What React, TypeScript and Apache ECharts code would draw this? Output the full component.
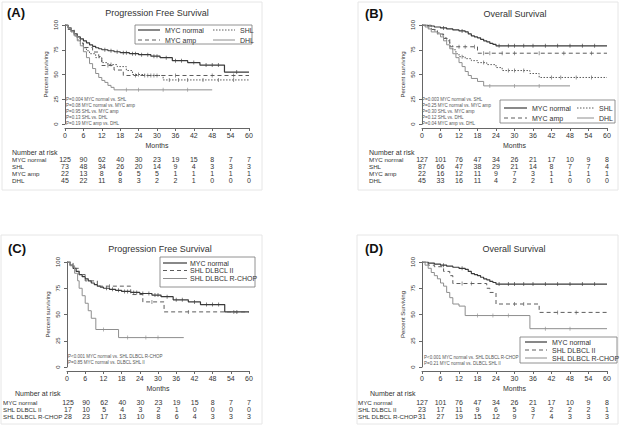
import React, { useEffect, useRef } from "react";
import * as echarts from "echarts";

// ---------- data ----------
const months = [0, 6, 12, 18, 24, 30, 36, 42, 48, 54, 60];

// Panel A - PFS
const pfsNormT = [0, 1, 2, 3, 4, 5, 6, 7, 8, 9, 10, 11, 12, 14, 16, 18, 21, 24, 28, 31, 35, 40, 44, 52, 60];
const pfsNormS = [100, 97, 94, 91, 88, 86, 84, 82, 80, 78.5, 77, 76, 75, 74, 73, 72, 71, 70, 68.5, 67, 64, 62, 59.5, 52.5, 52.5];
const pfsNormC = [13, 15, 17, 19, 20, 22, 23, 25, 27, 29, 30, 33, 36, 38, 42, 46, 48, 50, 56];
const pfsShlT = [0, 1, 2, 3, 4, 5, 6, 7, 8, 10, 12, 14, 17, 20, 22, 26, 32, 60];
const pfsShlS = [100, 97, 93, 89, 85, 81, 77, 74, 71, 67, 62, 60, 58, 54, 50, 49, 44.5, 44.5];
const pfsShlC = [15, 24, 27, 29, 34, 37, 40, 45, 50, 55];
const pfsAmpT = [0, 1, 3, 4, 5, 6, 9, 11, 12, 16, 19, 60];
const pfsAmpS = [100, 95.5, 91, 86.4, 81.8, 77.3, 72.7, 68.2, 59.1, 54.5, 49, 49];
const pfsAmpC = [14, 23, 26, 28, 30, 36, 48, 55];
const pfsDhlT = [0, 1, 2, 3, 4, 5, 6, 7, 8, 9, 10, 11, 12, 13, 14, 15, 16, 48];
const pfsDhlS = [100, 97, 93, 89, 84, 79, 73, 67, 61, 56, 51, 47, 44, 42, 39, 37, 34.5, 34.5];
const pfsDhlC = [20, 24, 32, 40];

// Panel B - OS
const osNormT = [0, 2, 4, 6, 8, 10, 12, 14, 15, 16, 17, 18, 19, 20, 21, 22, 23, 24, 60];
const osNormS = [100, 99, 98, 97, 96, 95, 94, 93, 91, 89, 88, 87, 85.5, 84, 83, 81.5, 80.5, 79, 79];
const osNormC = [7, 13, 25, 28, 30, 33, 36, 40, 44, 48, 52, 56];
const osShlT = [0, 1, 2, 3, 4, 5, 6, 7, 8, 9, 10, 11, 12, 14, 16, 18, 21, 24, 26, 35, 38, 60];
const osShlS = [100, 99, 97, 95.5, 94, 92, 90, 87, 84, 79, 75, 71, 68, 66, 64, 62, 60, 57, 54, 51, 47, 47];
const osShlC = [13, 20, 28, 30, 33, 42, 45, 50, 55];
const osAmpT = [0, 3, 5, 7, 9, 18, 60];
const osAmpS = [100, 95.5, 90.9, 86.4, 78, 71.5, 71.5];
const osAmpC = [12, 14, 17, 20, 22, 26, 30, 38, 46, 55];
const osDhlT = [0, 1, 2, 3, 5, 6, 7, 8, 9, 10, 11, 12, 13, 14, 15, 16, 18, 20, 48];
const osDhlS = [100, 98, 96, 93, 91, 88, 84, 80, 76, 71, 67, 62, 58, 53, 49, 46, 43, 38.5, 38.5];
const osDhlC = [22, 30, 38];

// Panel C - PFS by SHL subgroup
const cShl2T = [0, 2, 4, 6, 10, 21, 25, 32, 60];
const cShl2S = [100, 94, 88, 82, 77, 69, 62, 52.5, 52.5];
const cShl2C = [14, 28, 40, 55];
const cRchT = [0, 1, 2.5, 3.5, 4, 5, 6, 7, 8, 9.5, 17, 38.5];
const cRchS = [100, 96.4, 89.3, 82.1, 75, 67.9, 60.7, 53.6, 46.4, 35.7, 28, 28];
const cRchC = [12, 20, 26, 30];

// Panel D - OS by SHL subgroup
const dShl2T = [0, 2, 4, 7, 9, 10, 21, 22, 24, 38, 60];
const dShl2S = [100, 97, 95.5, 91, 87, 79.5, 75, 71, 60, 52, 52];
const dShl2C = [13, 16, 30, 33, 44, 50];
const dRchT = [0, 1, 2, 3, 4, 5, 6, 7, 8, 9, 10, 12, 14, 35, 60];
const dRchS = [100, 97, 94, 90, 87, 84, 80, 77, 71, 66, 60, 58, 49, 36.5, 36.5];
const dRchC = [18, 23, 28, 40, 48];

// Numbers at risk
const riskA = {
  labels: ["MYC normal", "SHL", "MYC amp", "DHL"],
  rows: [
    [125, 90, 62, 40, 30, 23, 19, 15, 8, 7, 7],
    [73, 48, 34, 26, 20, 14, 9, 4, 3, 3, 3],
    [22, 13, 8, 6, 5, 5, 1, 1, 1, 1, 1],
    [45, 22, 11, 8, 3, 2, 2, 1, 0, 0, 0],
  ],
};
const riskB = {
  labels: ["MYC normal", "SHL", "MYC amp", "DHL"],
  rows: [
    [127, 101, 76, 47, 34, 26, 21, 17, 10, 9, 8],
    [87, 66, 47, 38, 29, 21, 14, 8, 7, 7, 4],
    [22, 16, 12, 11, 9, 7, 3, 1, 1, 1, 1],
    [45, 33, 16, 11, 4, 2, 2, 1, 0, 0, 0],
  ],
};
const riskC = {
  labels: ["MYC normal", "SHL DLBCL II", "SHL DLBCL R-CHOP"],
  rows: [
    [125, 90, 62, 40, 30, 23, 19, 15, 8, 7, 7],
    [17, 10, 5, 4, 3, 2, 1, 0, 0, 0, 0],
    [28, 23, 17, 13, 10, 8, 6, 4, 3, 3, 3],
  ],
};
const riskD = {
  labels: ["MYC normal", "SHL DLBCL II", "SHL DLBCL R-CHOP"],
  rows: [
    [127, 101, 76, 47, 34, 26, 21, 17, 10, 9, 8],
    [23, 17, 11, 9, 6, 5, 3, 2, 2, 2, 1],
    [31, 27, 19, 15, 12, 9, 7, 4, 3, 3, 3],
  ],
};

const pvalA = [
  "P=0.004 MYC normal vs. SHL",
  "P=0.08 MYC normal vs. MYC amp",
  "P=0.95 SHL vs. MYC amp",
  "P=0.13 SHL vs. DHL",
  "P=0.19 MYC amp vs. DHL",
];
const pvalB = [
  "P=0.003 MYC normal vs. SHL",
  "P=0.25 MYC normal vs. MYC amp",
  "P=0.30 SHL vs. MYC amp",
  "P=0.12 SHL vs. DHL",
  "P=0.04 MYC amp vs. DHL",
];
const pvalC = ["P<0.001 MYC normal vs. SHL DLBCL R-CHOP", "P=0.85 MYC normal vs. DLBCL SHL II"];
const pvalD = ["P<0.001 MYC normal vs. SHL DLBCL R-CHOP", "P=0.21 MYC normal vs. DLBCL SHL II"];

// ---------- styles ----------
const FONT = "Liberation Sans, Arial, sans-serif";
const styles: Record<string, any> = {
  "MYC normal": { color: "#3a3a3a", width: 1.2, type: "solid", dash: null },
  SHL: { color: "#5c5c5c", width: 1, type: [1.5, 1.5], dash: [1.5, 1.5] },
  "MYC amp": { color: "#5c5c5c", width: 1, type: [4, 3], dash: [4, 3] },
  DHL: { color: "#8e8e8e", width: 1, type: "solid", dash: null },
  "SHL DLBCL II": { color: "#5c5c5c", width: 1, type: [4, 3], dash: [4, 3] },
  "SHL DLBCL R-CHOP": { color: "#8e8e8e", width: 1, type: "solid", dash: null },
};

function stepAt(T: number[], S: number[], t: number) {
  let s = S[0];
  for (let i = 0; i < T.length; i++) if (T[i] <= t) s = S[i];
  return s;
}

type Curve = { name: string; T: number[]; S: number[]; C: number[] };

const panels = [
  {
    tag: "(A)", title: "Progression Free Survival", yName: "Percent surviving",
    curves: [
      { name: "MYC normal", T: pfsNormT, S: pfsNormS, C: pfsNormC },
      { name: "SHL", T: pfsShlT, S: pfsShlS, C: pfsShlC },
      { name: "MYC amp", T: pfsAmpT, S: pfsAmpS, C: pfsAmpC },
      { name: "DHL", T: pfsDhlT, S: pfsDhlS, C: pfsDhlC },
    ] as Curve[],
    risk: riskA, pvals: pvalA,
    L: { left: 65, top: 25, width: 184, height: 99, tagX: 7, tagY: 14, titleX: 157, titleY: 13,
      riskTop: 155.5, rowH: 7, labelX: 12, narX: 12, narY: 152, pX: 66, pY: 99, frame: [2, 2, 260, 188] },
  },
  {
    tag: "(B)", title: "Overall Survival", yName: "Percent surviving",
    curves: [
      { name: "MYC normal", T: osNormT, S: osNormS, C: osNormC },
      { name: "SHL", T: osShlT, S: osShlS, C: osShlC },
      { name: "MYC amp", T: osAmpT, S: osAmpS, C: osAmpC },
      { name: "DHL", T: osDhlT, S: osDhlS, C: osDhlC },
    ] as Curve[],
    risk: riskB, pvals: pvalB,
    L: { left: 422, top: 25, width: 185, height: 99, tagX: 365, tagY: 15, titleX: 515, titleY: 14,
      riskTop: 155.5, rowH: 7, labelX: 369, narX: 369, narY: 152, pX: 422, pY: 99, frame: [358, 2, 260, 188] },
  },
  {
    tag: "(C)", title: "Progression Free Survival", yName: "Percent surviving",
    curves: [
      { name: "MYC normal", T: pfsNormT, S: pfsNormS, C: pfsNormC },
      { name: "SHL DLBCL II", T: cShl2T, S: cShl2S, C: cShl2C },
      { name: "SHL DLBCL R-CHOP", T: cRchT, S: cRchS, C: cRchC },
    ] as Curve[],
    risk: riskC, pvals: pvalC,
    L: { left: 67, top: 262, width: 182, height: 105, tagX: 8, tagY: 250, titleX: 160, titleY: 249,
      riskTop: 398.5, rowH: 7, labelX: 2, narX: 15, narY: 393, pX: 68, pY: 356, frame: [1, 235, 261, 189] },
  },
  {
    tag: "(D)", title: "Overall Survival", yName: "Percent Surviving",
    curves: [
      { name: "MYC normal", T: osNormT, S: osNormS, C: osNormC },
      { name: "SHL DLBCL II", T: dShl2T, S: dShl2S, C: dShl2C },
      { name: "SHL DLBCL R-CHOP", T: dRchT, S: dRchS, C: dRchC },
    ] as Curve[],
    risk: riskD, pvals: pvalD,
    L: { left: 422, top: 262, width: 185, height: 105, tagX: 365, tagY: 250, titleX: 514, titleY: 249,
      riskTop: 398.5, rowH: 7, labelX: 358, narX: 370, narY: 393, pX: 424, pY: 357, frame: [357, 235, 261, 189] },
  },
];

const legendDefs = [
  { box: [135, 25, 117, 19], cols: [
    { x: 138, ys: [30, 40], items: ["MYC normal", "MYC amp"], w: 22, tx: 165 },
    { x: 213, ys: [30, 40], items: ["SHL", "DHL"], w: 22, tx: 240 } ] },
  { box: [500, 100, 115, 23], cols: [
    { x: 504, ys: [108, 118], items: ["MYC normal", "MYC amp"], w: 23, tx: 532 },
    { x: 577, ys: [108, 118], items: ["SHL", "DHL"], w: 17, tx: 599 } ] },
  { box: [160, 257, 95, 30], cols: [
    { x: 163, ys: [263, 270.5, 278.5], items: ["MYC normal", "SHL DLBCL II", "SHL DLBCL R-CHOP"], w: 24, tx: 190 } ] },
  { box: [520, 337, 97, 26], cols: [
    { x: 525, ys: [342, 350, 358], items: ["MYC normal", "SHL DLBCL II", "SHL DLBCL R-CHOP"], w: 22, tx: 552 } ] },
];

function buildOption() {
  const grid: any[] = [];
  const xAxis: any[] = [];
  const yAxis: any[] = [];
  const series: any[] = [];
  const graphic: any[] = [];

  panels.forEach((p, i) => {
    const L = p.L;
    graphic.push({ type: "rect", silent: true, z: -1,
      shape: { x: L.frame[0], y: L.frame[1], width: L.frame[2], height: L.frame[3] },
      style: { fill: "none", stroke: "#e6e6e6", lineWidth: 1 } });
    grid.push({ left: L.left, top: L.top, width: L.width, height: L.height, containLabel: false });
    xAxis.push({
      type: "value", gridIndex: i, min: 0, max: 60, interval: 6, offset: 4,
      axisLine: { show: true, onZero: false, lineStyle: { color: "#666", width: 1 } },
      axisTick: { show: true, length: 3, lineStyle: { color: "#666" } },
      axisLabel: { fontSize: 7, color: "#333", margin: 4, fontFamily: FONT },
      splitLine: { show: false },
      name: "Months", nameLocation: "middle", nameGap: 14,
      nameTextStyle: { fontSize: 7, color: "#333", fontFamily: FONT },
    });
    yAxis.push({
      type: "value", gridIndex: i, min: 0, max: 100, interval: 25, offset: 3,
      axisLine: { show: true, lineStyle: { color: "#666", width: 1 } },
      axisTick: { show: true, length: 3, lineStyle: { color: "#666" } },
      axisLabel: { fontSize: 6, color: "#333", rotate: 90, margin: 3, fontFamily: FONT },
      splitLine: { show: false },
      name: p.yName, nameLocation: "middle", nameGap: 13,
      nameTextStyle: { fontSize: 6, color: "#333", fontFamily: FONT },
    });
    p.curves.forEach((c) => {
      const st = styles[c.name];
      series.push({
        type: "line", name: c.name, xAxisIndex: i, yAxisIndex: i, step: "end",
        symbol: "none", showSymbol: false, silent: true,
        data: c.T.map((t, k) => [t, c.S[k]]),
        lineStyle: { color: st.color, width: st.width, type: st.type },
        itemStyle: { color: st.color },
      });
      series.push({
        type: "scatter", name: c.name + " (censored)", xAxisIndex: i, yAxisIndex: i,
        symbol: "rect", symbolSize: [0.8, 4], silent: true,
        itemStyle: { color: st.color },
        data: c.C.map((t) => [t, stepAt(c.T, c.S, t)]),
      });
    });
    graphic.push({ type: "text", left: L.tagX, top: L.tagY - 8,
      style: { text: p.tag, fontSize: 13, fontWeight: "bold", fill: "#111", fontFamily: FONT } });
    graphic.push({ type: "text", x: L.titleX, y: L.titleY,
      style: { text: p.title, fontSize: 9, fill: "#333", fontFamily: FONT, align: "center", verticalAlign: "middle" } });
    p.pvals.forEach((t, k) => {
      graphic.push({ type: "text", x: L.pX, y: L.pY + k * 6,
        style: { text: t, fontSize: 4.5, fill: "#555", fontFamily: FONT, verticalAlign: "middle" } });
    });
    graphic.push({ type: "text", x: L.narX, y: L.narY,
      style: { text: "Number at risk", fontSize: 7, fill: "#333", fontFamily: FONT, verticalAlign: "middle" } });
  });

  // Risk tables
  panels.forEach((p, i) => {
    const L = p.L;
    const gi = 4 + i;
    const nRows = p.risk.labels.length;
    grid.push({ left: L.left, top: L.riskTop, width: L.width, height: nRows * L.rowH, containLabel: false });
    xAxis.push({ type: "value", gridIndex: gi, min: 0, max: 60, interval: 6, show: false });
    yAxis.push({
      type: "category", gridIndex: gi, data: p.risk.labels, inverse: true,
      axisLine: { show: false }, axisTick: { show: false }, splitLine: { show: false },
      axisLabel: { interval: 0, align: "left", margin: L.left - L.labelX, fontSize: 6.2, color: "#333", fontFamily: FONT },
    });
    const data: any[] = [];
    p.risk.rows.forEach((r, ri) => r.forEach((v, k) => data.push([months[k], ri, v])));
    series.push({
      type: "scatter", name: "risk" + i, xAxisIndex: gi, yAxisIndex: gi, silent: true,
      symbolSize: 1, itemStyle: { color: "#fff", opacity: 0 },
      label: { show: true, position: "inside", fontSize: 7, color: "#333", fontFamily: FONT,
        textBorderWidth: 0, opacity: 1,
        formatter: (q: any) => String(q.value[2]) },
      data,
    });
  });

  // Legends (boxed keys)
  legendDefs.forEach((ld) => {
    graphic.push({ type: "rect", silent: true, z: 5,
      shape: { x: ld.box[0], y: ld.box[1], width: ld.box[2], height: ld.box[3] },
      style: { fill: "#fff", stroke: "#777", lineWidth: 0.8 } });
    ld.cols.forEach((c) => {
      c.items.forEach((name, k) => {
        const st = styles[name];
        graphic.push({ type: "line", silent: true, z: 6,
          shape: { x1: c.x, y1: c.ys[k], x2: c.x + c.w, y2: c.ys[k] },
          style: { stroke: st.color, lineWidth: st.width, lineDash: st.dash || undefined } });
        graphic.push({ type: "text", silent: true, z: 6, x: c.tx, y: c.ys[k],
          style: { text: name, fontSize: 7, fill: "#333", fontFamily: FONT, verticalAlign: "middle" } });
      });
    });
  });

  return {
    animation: false,
    backgroundColor: "#fff",
    textStyle: { fontFamily: FONT },
    grid, xAxis, yAxis, series, graphic,
  };
}

export default function App() {
  const ref = useRef<HTMLDivElement>(null);
  useEffect(() => {
    if (!ref.current) return;
    const chart = echarts.init(ref.current, null, { renderer: "svg" });
    chart.setOption(buildOption() as any);
    return () => chart.dispose();
  }, []);
  return (
    <div
      ref={ref}
      style={{ position: "fixed", left: 0, top: 0, width: 624, height: 427, background: "#fff" }}
    />
  );
}
